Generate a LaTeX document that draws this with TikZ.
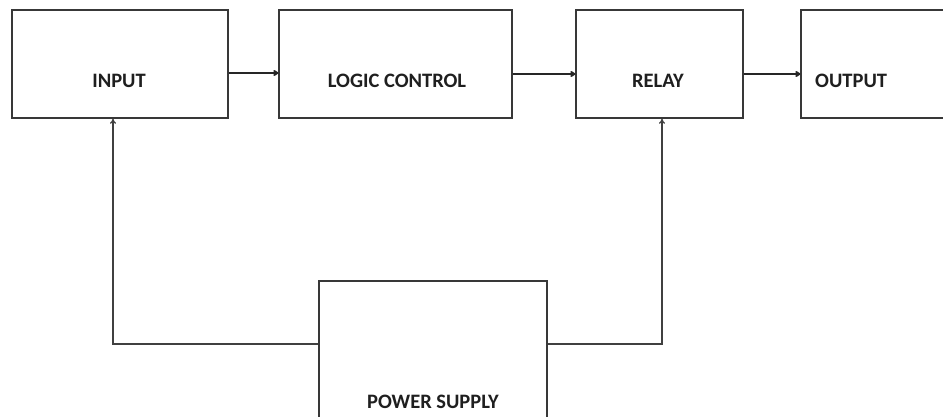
\documentclass[tikz,border=0pt]{standalone}
\usepackage{fontspec}
\setmainfont{Carlito}
\usetikzlibrary{arrows.meta}
\begin{document}
\begin{tikzpicture}[x=1pt,y=-1pt,
  blk/.style={draw=black!78, line width=1.4pt, fill=none, inner sep=0pt},
  lbl/.style={font=\bfseries\fontsize{20.5}{24}\selectfont, text=black!88, inner sep=0pt, anchor=base},
  flow/.style={draw=black!85, line width=2pt, -{To[length=5pt,width=6pt]}},
  feed/.style={draw=black!75, line width=1.3pt, -{To[length=5pt,width=6pt]}}]
\useasboundingbox (0,0) rectangle (943,416);
\clip (0,0) rectangle (943,416);
\fill[white] (0,0) rectangle (943,416);
% boxes
\node[blk, minimum width=216pt, minimum height=108pt] (input) at (120,64) {};
\node[blk, minimum width=233pt, minimum height=108pt] (logic) at (395.5,64) {};
\node[blk, minimum width=167pt, minimum height=108pt] (relay) at (659.5,64) {};
\node[blk, minimum width=170pt, minimum height=108pt] (output) at (886,64) {};
\node[blk, minimum width=228pt, minimum height=160pt] (power) at (433,361) {};
% labels
\node[lbl] (tin) at (119,87) {INPUT};
\node[lbl] (tlc) at (397,87) {LOGIC CONTROL};
\node[lbl] (trl) at (658,87) {RELAY};
\node[lbl, anchor=base west] (tout) at (815,87) {OUTPUT};
\node[lbl] (tps) at (433,408) {POWER SUPPLY};
% connectors
\draw[flow] (input.east |- 0,73) -- (logic.west |- 0,73);
\draw[flow] (logic.east |- 0,74) -- (relay.west |- 0,74);
\draw[flow] (relay.east |- 0,74) -- (output.west |- 0,74);
\coordinate (pl) at (power.west |- 0,344);
\coordinate (pr) at (power.east |- 0,344);
\draw[feed] (pl) -- (113,344) -- (113,118.7);
\draw[feed] (pr) -- (662,344) -- (662,118.7);
\end{tikzpicture}
\end{document}
